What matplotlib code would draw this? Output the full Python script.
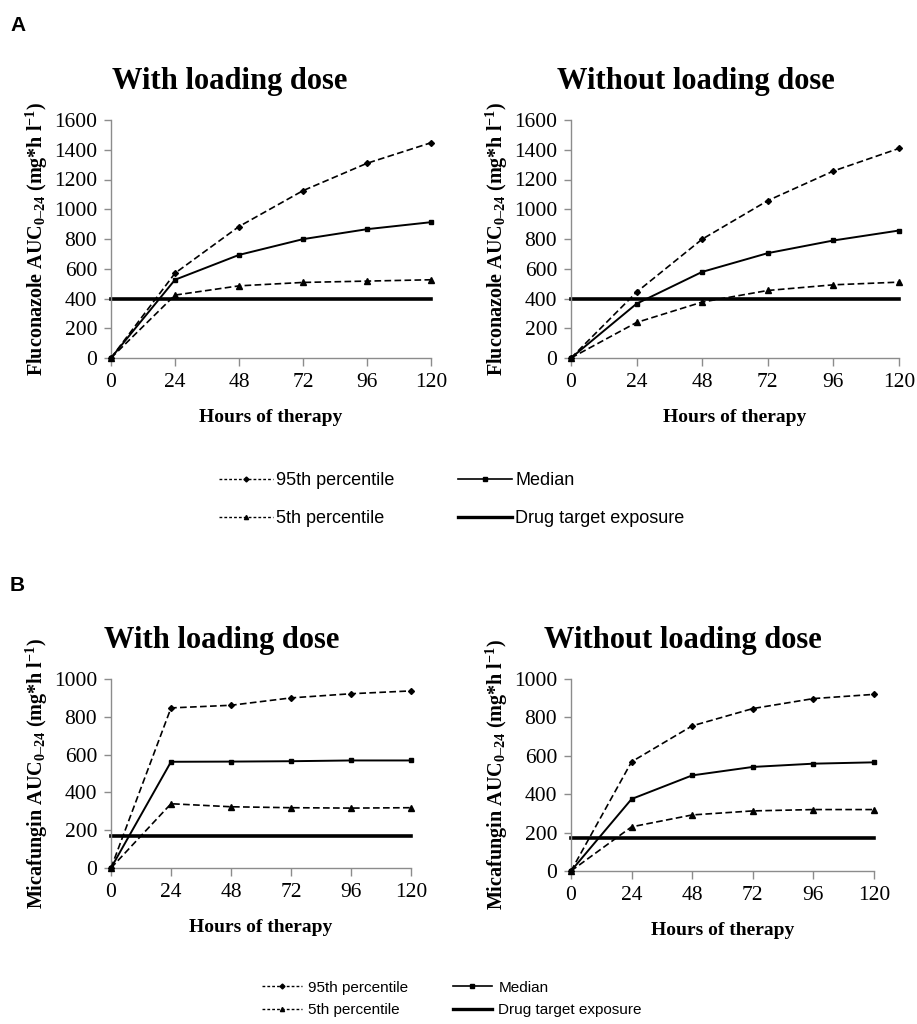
import matplotlib
matplotlib.use('Agg')
import matplotlib.pyplot as plt
from matplotlib.lines import Line2D

hours = [0, 24, 48, 72, 96, 120]

# Fluconazole (panel A)
flu_load_p95 = [0, 570, 884, 1125, 1309, 1447]
flu_load_med = [0, 526, 693, 799, 866, 913]
flu_load_p5 = [0, 423, 485, 508, 517, 526]
flu_noload_p95 = [0, 443, 799, 1058, 1257, 1409]
flu_noload_med = [0, 365, 579, 705, 790, 857]
flu_noload_p5 = [0, 239, 376, 454, 492, 510]
flu_target = 400

# Micafungin (panel B)
mica_load_p95 = [0, 847, 861, 900, 922, 937]
mica_load_med = [0, 562, 563, 565, 569, 569]
mica_load_p5 = [0, 340, 324, 319, 317, 319]
mica_noload_p95 = [0, 569, 756, 846, 898, 920]
mica_noload_med = [0, 375, 498, 542, 559, 566]
mica_noload_p5 = [0, 230, 292, 313, 320, 320]
mica_target = 170

legend_labels = ['95th percentile', '5th percentile', 'Median', 'Drug target exposure']

SERIF = 'Liberation Serif'
plt.rcParams['font.family'] = SERIF
plt.rcParams['mathtext.fontset'] = 'custom'
plt.rcParams['mathtext.rm'] = 'Liberation Serif:bold'
plt.rcParams['mathtext.it'] = 'Liberation Serif:bold'
plt.rcParams['mathtext.bf'] = 'Liberation Serif:bold'
plt.rcParams['mathtext.default'] = 'rm'

W, H = 917, 1024
fig = plt.figure(figsize=(W / 100, H / 100), dpi=100)


def add_axes_px(left, right, top, bottom):
    return fig.add_axes([left / W, 1 - bottom / H, (right - left) / W, (bottom - top) / H])


def draw_panel(ax, p95, med, p5, target, ymax, title, ylabel, title_x):
    ax.plot(hours, p95, color='black', lw=1.2, ls=(0, (4, 2)), marker='D', ms=3, clip_on=False, zorder=3)
    ax.plot(hours, med, color='black', lw=1.4, marker='s', ms=3.2, clip_on=False, zorder=3)
    ax.plot(hours, p5, color='black', lw=1.2, ls=(0, (4, 2)), marker='^', ms=4, clip_on=False, zorder=3)
    ax.plot([hours[0], hours[-1]], [target, target], color='black', lw=2.6, clip_on=False, zorder=2)
    ax.set_xlim(0, 120)
    ax.set_ylim(0, ymax)
    ax.set_xticks(hours)
    ax.set_yticks(range(0, ymax + 1, 200))
    for s in ['top', 'right']:
        ax.spines[s].set_visible(False)
    for s in ['left', 'bottom']:
        ax.spines[s].set_color('#8c8c8c')
        ax.spines[s].set_linewidth(1.0)
    ax.tick_params(axis='x', direction='out', length=6, width=1, color='#8c8c8c', labelsize=15.5, pad=5)
    ax.tick_params(axis='y', direction='out', length=5, width=1, color='#8c8c8c', labelsize=15.5, pad=5)
    ax.set_title(title, fontsize=22, fontweight='bold', pad=22, x=title_x)
    ax.set_xlabel('Hours of therapy', fontsize=14, fontweight='bold', labelpad=12)
    ax.set_ylabel(ylabel, fontsize=14.5, fontweight='bold', labelpad=3)


flu_ylabel = 'Fluconazole AUC$_{0\u201324}$ (mg*h l$^{-1}$)'
mica_ylabel = 'Micafungin AUC$_{0\u201324}$ (mg*h l$^{-1}$)'

ax1 = add_axes_px(111, 431, 120, 358)
draw_panel(ax1, flu_load_p95, flu_load_med, flu_load_p5, flu_target, 1600,
           'With loading dose', flu_ylabel, (230 - 111) / 320)
ax2 = add_axes_px(571, 899, 120, 358)
draw_panel(ax2, flu_noload_p95, flu_noload_med, flu_noload_p5, flu_target, 1600,
           'Without loading dose', flu_ylabel, (696 - 571) / 328)
ax3 = add_axes_px(111, 411, 679, 868)
draw_panel(ax3, mica_load_p95, mica_load_med, mica_load_p5, mica_target, 1000,
           'With loading dose', mica_ylabel, (222 - 111) / 300)
ax4 = add_axes_px(571, 874, 679, 871)
draw_panel(ax4, mica_noload_p95, mica_noload_med, mica_noload_p5, mica_target, 1000,
           'Without loading dose', mica_ylabel, (683 - 571) / 303)

handles = [
    Line2D([], [], color='black', lw=1.0, ls=(0, (2, 1.5)), marker='D', ms=2.5),
    Line2D([], [], color='black', lw=1.0, ls=(0, (2, 1.5)), marker='^', ms=3),
    Line2D([], [], color='black', lw=1.2, marker='s', ms=2.5),
    Line2D([], [], color='black', lw=2.4),
]
fig.legend(handles, legend_labels, ncol=2, loc='center left', bbox_to_anchor=(0.221, 0.512),
           frameon=False, prop={'family': 'Liberation Sans', 'size': 13},
           handlelength=3.0, handletextpad=0.15, columnspacing=3.55, labelspacing=1.15)
fig.legend(handles, legend_labels, ncol=2, loc='center left', bbox_to_anchor=(0.271, 0.0245),
           frameon=False, prop={'family': 'Liberation Sans', 'size': 11},
           handlelength=2.6, handletextpad=0.4, columnspacing=2.9, labelspacing=0.55)

fig.text(0.011, 0.975, 'A', fontsize=15, fontweight='bold', family='Liberation Sans', va='center')
fig.text(0.011, 0.428, 'B', fontsize=15, fontweight='bold', family='Liberation Sans', va='center')

fig.savefig('out.png', dpi=100)
